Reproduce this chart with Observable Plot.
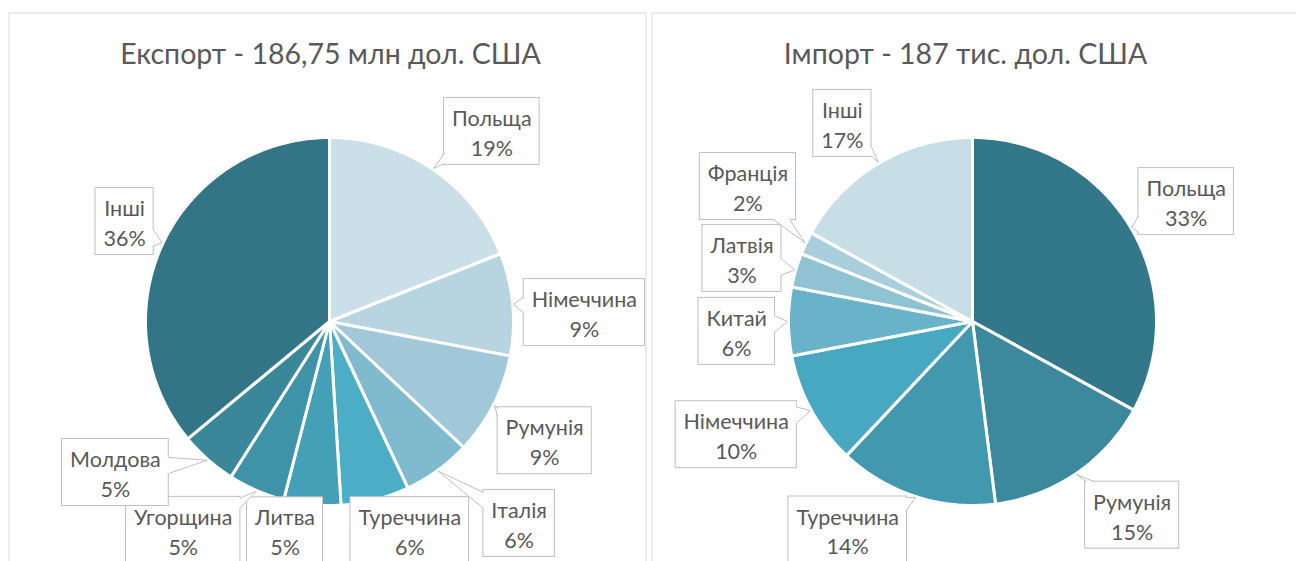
<!DOCTYPE html>
<html><head><meta charset="utf-8">
<script src="https://cdn.jsdelivr.net/npm/d3@7"></script>
<script src="https://cdn.jsdelivr.net/npm/@observablehq/plot@0.6"></script>
<style>body{margin:0;background:#fff}</style>
</head><body><div id="chart"></div>
<script>
// ---- data ----
const titles = ["Експорт - 186,75 млн дол. США", "Імпорт - 187 тис. дол. США"];
const exportCountries = ["Польща","Німеччина","Румунія","Італія","Туреччина","Литва","Угорщина","Молдова","Інші"];
const exportShares = [19, 9, 9, 6, 6, 5, 5, 5, 36];
const importCountries = ["Польща","Румунія","Туреччина","Німеччина","Китай","Латвія","Франція","Інші"];
const importShares = [33, 15, 14, 10, 6, 3, 2, 17];

// ---- styles / layout ----
const exportColors = ["#cadfe8","#b7d4e0","#a1c8d8","#7fbacf","#4badc6","#44a0b7","#3f93a9","#3a8799","#327587"];
const importColors = ["#33778a","#3c889d","#4298ae","#48a8c1","#68b3ca","#8fc2d3","#a9cfdc","#c8dee6"];
// label placement (polar: angle clockwise from top in degrees, distance from pie centre)
const exportLabelAngle = [40.5, 88, 119, 136.8, 159, 192, 215, 234.8, 296];
const exportLabelDist  = [250, 255, 246, 277, 224, 214, 255, 262, 228];
const importLabelAngle = [60.7, 140.5, 210.9, 244.4, 267.6, 285.3, 301, 326.7];
const importLabelDist  = [245, 251, 243, 262, 236, 239, 262, 237];

const W = 1296, H = 561;
const FONT = "Lato, 'Open Sans', sans-serif";
const LABEL_SIZE = 21.5, TITLE_SIZE = 28.5;
const TEXT_COLOR = "#595959", BOX_COLOR = "#bfbfbf";
const panels = [
  {x1: 9, x2: 646, cx: 329, cy: 321, r: 184, titleX: 330, titleY: 54},
  {x1: 652, x2: 1300, cx: 972, cy: 321, r: 184, titleX: 965, titleY: 54}
];
const pies = [
  {names: exportCountries, values: exportShares, colors: exportColors, la: exportLabelAngle, ld: exportLabelDist},
  {names: importCountries, values: importShares, colors: importColors, la: importLabelAngle, ld: importLabelDist}
];

const ctx = document.createElement("canvas").getContext("2d");
ctx.font = `${LABEL_SIZE}px ${FONT}`;
const rad = d => d * Math.PI / 180;

const slicePts = [], boxes = [], ptrFill = [], ptrLine = [], labels = [], titleData = [], frames = [];
pies.forEach((pie, pi) => {
  const P = panels[pi];
  frames.push({x1: P.x1, x2: P.x2, y1: 13, y2: H + 20});
  titleData.push({x: P.titleX, y: P.titleY, text: titles[pi]});
  const total = d3.sum(pie.values);
  let acc = 0;
  pie.values.forEach((v, i) => {
    const a0 = acc / total * 360, a1 = (acc + v) / total * 360;
    acc += v;
    const id = `${pi}-${i}`;
    slicePts.push({id, x: P.cx, y: P.cy, color: pie.colors[i]});
    const n = Math.max(2, Math.ceil(a1 - a0));
    for (let k = 0; k <= n; k++) {
      const a = rad(a0 + (a1 - a0) * k / n);
      slicePts.push({id, x: P.cx + P.r * Math.sin(a), y: P.cy - P.r * Math.cos(a), color: pie.colors[i]});
    }
    // label box
    const name = pie.names[i], pct = `${v}%`;
    const tw = Math.max(ctx.measureText(name).width, ctx.measureText(pct).width);
    const hw = tw / 2 + 8, hh = 33.5;
    const la = rad(pie.la[i]);
    const bx = P.cx + pie.ld[i] * Math.sin(la), by = P.cy - pie.ld[i] * Math.cos(la);
    boxes.push({x1: bx - hw, x2: bx + hw, y1: by - hh, y2: by + hh});
    labels.push({x: bx, y: by, text: `${name}\n${pct}`});
    // pointer
    const am = rad((a0 + a1) / 2);
    const tx = P.cx + (P.r + 1) * Math.sin(am), ty = P.cy - (P.r + 1) * Math.cos(am);
    const dx = tx - bx, dy = ty - by;
    const tX = Math.abs(dx) > 1e-6 ? hw / Math.abs(dx) : Infinity;
    const tY = Math.abs(dy) > 1e-6 ? hh / Math.abs(dy) : Infinity;
    const t = Math.min(tX, tY);
    if (t >= 1) return; // tip inside box
    const ex = bx + dx * t, ey = by + dy * t;
    let b1, b2, in1, in2;
    const hb = 8, clampX = x => Math.max(bx - hw + 1, Math.min(bx + hw - 1, x)), clampY = y => Math.max(by - hh + 1, Math.min(by + hh - 1, y));
    if (tY < tX) {
      const s = Math.sign(dy);
      b1 = [clampX(ex - hb), ey]; b2 = [clampX(ex + hb), ey];
      in1 = [b1[0], ey - s * 2]; in2 = [b2[0], ey - s * 2];
    } else {
      const s = Math.sign(dx);
      b1 = [ex, clampY(ey - hb)]; b2 = [ex, clampY(ey + hb)];
      in1 = [ex - s * 2, b1[1]]; in2 = [ex - s * 2, b2[1]];
    }
    const pid = `p${id}`;
    [in1, b1, [tx, ty], b2, in2].forEach(p => ptrFill.push({id: pid, x: p[0], y: p[1]}));
    [b1, [tx, ty], b2].forEach(p => ptrLine.push({id: pid, x: p[0], y: p[1]}));
  });
});

const chart = Plot.plot({
  width: W, height: H,
  margin: 0,
  x: {domain: [0, W], range: [0, W], axis: null},
  y: {domain: [0, H], range: [0, H], axis: null},
  color: {type: "identity"},
  style: {fontFamily: FONT, background: "#fff"},
  marks: [
    Plot.rect(frames, {x1: "x1", x2: "x2", y1: "y1", y2: "y2", fill: "none", stroke: "#d9d9d9", strokeWidth: 1}),
    Plot.line(slicePts, {x: "x", y: "y", z: "id", fill: "color", stroke: "#fff", strokeWidth: 3, strokeLinejoin: "round", curve: "linear-closed"}),
    Plot.rect(boxes, {x1: "x1", x2: "x2", y1: "y1", y2: "y2", fill: "#fff", stroke: BOX_COLOR, strokeWidth: 1}),
    Plot.line(ptrFill, {x: "x", y: "y", z: "id", fill: "#fff", stroke: "none", curve: "linear-closed"}),
    Plot.line(ptrLine, {x: "x", y: "y", z: "id", stroke: BOX_COLOR, strokeWidth: 1}),
    Plot.text(labels, {x: "x", y: "y", text: "text", fontSize: LABEL_SIZE, fill: TEXT_COLOR, lineHeight: 1.38, textAnchor: "middle", lineAnchor: "middle"}),
    Plot.text(titleData, {x: "x", y: "y", text: "text", fontSize: TITLE_SIZE, fill: TEXT_COLOR, textAnchor: "middle", lineAnchor: "middle"})
  ]
});
document.getElementById("chart").appendChild(chart);
</script>
</body></html>
